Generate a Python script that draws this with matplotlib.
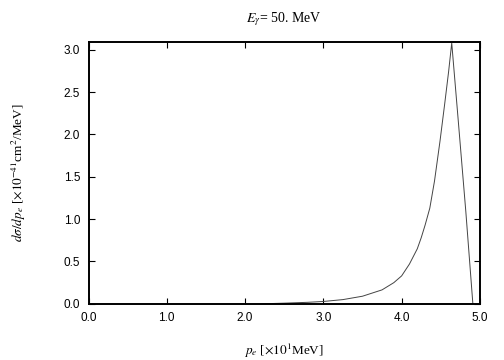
import matplotlib
matplotlib.use("Agg")
import matplotlib.pyplot as plt

# data
p_e = [2.2, 2.5, 2.8, 3.0, 3.25, 3.5, 3.75, 3.9, 4.0, 4.1, 4.2, 4.25, 4.3, 4.36, 4.42, 4.49, 4.55, 4.6, 4.64, 4.72, 4.82, 4.91]
dsig = [0.0, 0.008, 0.018, 0.028, 0.05, 0.09, 0.165, 0.25, 0.33, 0.47, 0.65, 0.78, 0.93, 1.13, 1.45, 1.92, 2.36, 2.74, 3.08, 2.20, 1.09, 0.0]
xticks = [0.0, 1.0, 2.0, 3.0, 4.0, 5.0]
yticks = [0.0, 0.5, 1.0, 1.5, 2.0, 2.5, 3.0]

plt.rcParams['mathtext.fontset'] = 'stix'
fig = plt.figure(figsize=(5.04, 3.6), dpi=100)
ax = fig.add_axes([0.1756, 0.156, 0.7766, 0.727])
ax.plot(p_e, dsig, color='#444444', lw=0.7)
ax.set_xlim(0, 5.0)
ax.set_ylim(0, 3.09)
ax.set_xticks(xticks)
ax.set_xticklabels([f"{t:.1f}" for t in xticks], fontfamily='Liberation Sans', fontsize=8.5)
ax.set_yticks(yticks)
ax.set_yticklabels([f"{t:.1f}" for t in yticks], fontfamily='Liberation Sans', fontsize=8.5)
ax.tick_params(direction='in', length=4, width=0.8, top=True, right=True, pad=6, colors='black')
for s in ax.spines.values():
    s.set_linewidth(1.4)
ax.set_title(r'$E_{\gamma}$= 50. MeV', fontfamily='Liberation Serif', fontsize=10, pad=14)
ax.set_xlabel(r'$p_e$ [$\times10^1$MeV]', fontfamily='Liberation Serif', fontsize=9.5, labelpad=13)
ax.set_ylabel(r'$d\sigma/dp_e$ [$\times10^{-41}$cm$^2$/MeV]', fontfamily='Liberation Serif', fontsize=9.5, labelpad=26)
fig.savefig('out.png', dpi=100)
